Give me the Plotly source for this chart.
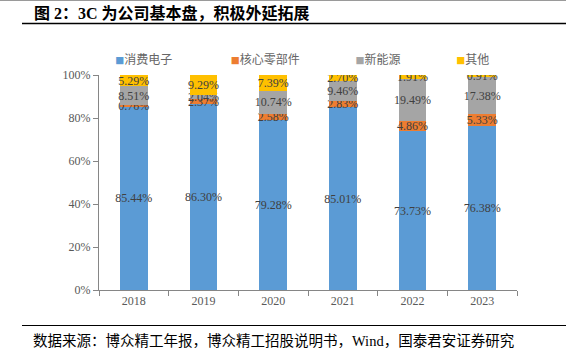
import plotly.graph_objects as go

years = ['2018', '2019', '2020', '2021', '2022', '2023']
series_names = ['消费电子', '核心零部件', '新能源', '其他']
consumer = [85.44, 86.30, 79.28, 85.01, 73.73, 76.38]
core = [0.76, 2.37, 2.58, 2.83, 4.86, 5.33]
new_energy = [8.51, 2.04, 10.74, 9.46, 19.49, 17.38]
other = [5.29, 9.29, 7.39, 2.70, 1.91, 0.91]
colors = ['#5B9BD5', '#ED7D31', '#A5A5A5', '#FFC000']

title_text = '图 2：3C 为公司基本盘，积极外延拓展'
source_text = '数据来源：博众精工年报，博众精工招股说明书，Wind，国泰君安证券研究'

SERIF = 'Liberation Serif, Noto Sans CJK SC'
CJK = 'Noto Sans CJK SC'

fig = go.Figure()
for name, vals, col in zip(series_names, [consumer, core, new_energy, other], colors):
    fig.add_trace(go.Bar(
        x=years, y=[v / 100 for v in vals], name=name,
        marker=dict(color=col, line=dict(width=0)),
        width=0.4,
        text=[f'{v:.2f}%' for v in vals],
        textposition='inside', insidetextanchor='middle',
        textangle=0,
        constraintext='none',
        textfont=dict(family=SERIF, size=12, color='#404040'),
        showlegend=False, hoverinfo='skip',
    ))
# legend entries
pad = {'消费电子': 5, '核心零部件': 4, '新能源': 4, '其他': 0}
for name, col in zip(series_names, colors):
    fig.add_trace(go.Scatter(
        x=[None], y=[None], mode='markers', name=f'<span style="color:{col};font-size:9px">■</span>' + name + '\u00a0' * pad[name],
        marker=dict(color='rgba(0,0,0,0)', size=1),
        showlegend=True, hoverinfo='skip',
    ))

pw, ph = 418, 215
def px(xp):
    return (xp - 99) / pw
def py(yp):
    return (290 - yp) / ph

axis_col = '#868686'
fig.update_layout(
    width=566, height=348,
    margin=dict(l=99, r=49, t=75, b=58),
    paper_bgcolor='white', plot_bgcolor='white',
    barmode='stack',
    showlegend=True,
    legend=dict(orientation='h', x=-0.057, xanchor='left', y=py(59), yanchor='middle',
                font=dict(family=CJK, size=12, color='#666666'),
                bgcolor='rgba(0,0,0,0)', traceorder='normal'),
    uniformtext=dict(minsize=12, mode='show'),
    xaxis=dict(type='category', range=[-0.5, 5.5], showline=True, linecolor=axis_col, linewidth=1,
               ticks='outside', tickson='boundaries', ticklen=5, tickcolor=axis_col,
               tickfont=dict(family=SERIF, size=12, color='#595959'), showgrid=False, zeroline=False),
    yaxis=dict(range=[0, 1], dtick=0.2, tickformat='.0%', showline=True, linecolor=axis_col, linewidth=1,
               ticks='outside', ticklen=5, tickcolor=axis_col,
               tickfont=dict(family=SERIF, size=12, color='#595959'), showgrid=False, zeroline=False),
    annotations=[
        dict(text=f'<b>{title_text}</b>', xref='paper', yref='paper',
             x=px(32), y=py(13), xanchor='left', yanchor='middle',
             showarrow=False, font=dict(family=SERIF, size=16, color='#000000')),
        dict(text=source_text, xref='paper', yref='paper', x=px(31), y=py(341), xanchor='left', yanchor='middle',
             showarrow=False, font=dict(family=SERIF, size=14.5, color='#000000')),
    ],
)
fig.add_shape(type='line', xref='paper', yref='paper', x0=px(22), x1=px(566), y0=py(23.5), y1=py(23.5),
              line=dict(color='#000000', width=1.5))
fig.add_shape(type='line', xref='paper', yref='paper', x0=px(22), x1=px(566), y0=py(325.5), y1=py(325.5),
              line=dict(color='#000000', width=1.2))
fig.add_shape(type='line', xref='paper', yref='paper', x0=px(0), x1=px(566), y0=py(0.5), y1=py(0.5),
              line=dict(color='#9a9a9a', width=1))

fig.write_html('out.html')
